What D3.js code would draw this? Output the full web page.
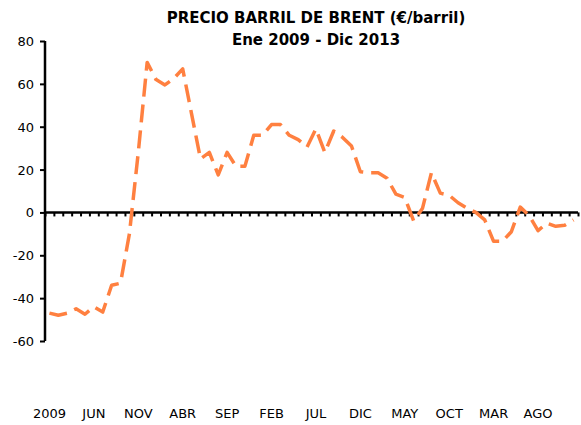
<!DOCTYPE html>
<html>
<head>
<meta charset="utf-8">
<script src="https://cdn.jsdelivr.net/npm/d3@7"></script>
<style>
  body { margin: 0; background: #fff; }
  text { font-family: "DejaVu Sans", Verdana, sans-serif; fill: #000; }
</style>
</head>
<body>
<div id="chart"></div>
<script>
const width = 581,
    height = 425;

// monthly values Ene 2009 - Dic 2013 (60 months)
const values = [
    -47, -48, -47, -45, -47.5, -44, -46.5, -34, -33, -10, 28, 70,
    62, 59.5, 62.5, 67, 46, 25, 28, 17.5, 28, 21.5, 21.5, 36,
    36, 41, 41, 36, 34, 30.5, 39, 28, 38, 35, 31, 19,
    18.5, 18.5, 16, 8.5, 7, -4, 2, 18.5, 9, 8, 4.5, 2,
    0, -3.5, -13.5, -13.5, -9, 2.5, -1.5, -8.5, -5, -6.5, -6, -3.5
];
const tickLabels = ['2009', 'JUN', 'NOV', 'ABR', 'SEP', 'FEB', 'JUL', 'DIC', 'MAY', 'OCT', 'MAR', 'AGO'];
const yTicks = [-60, -40, -20, 0, 20, 40, 60, 80];
const titleLines = ['PRECIO BARRIL DE BRENT (€/barril)', 'Ene 2009 - Dic 2013'];

const svg = d3.select('#chart')
    .append('svg')
    .attr('width', width)
    .attr('height', height);

const xScale = d3.scaleBand()
    .domain(d3.range(values.length))
    .range([45, 578]);
// month boundaries, for the small ticks on the zero line
const xEdge = d3.scaleLinear()
    .domain([0, values.length])
    .range(xScale.range());
const yScale = d3.scaleLinear()
    .domain([-60, 80])
    .range([341, 41]);

// title
svg.selectAll('.title')
    .data(titleLines)
    .enter()
    .append('text')
    .attr('class', 'title')
    .attr('x', 316)
    .attr('y', (d, i) => 23 + i * 22)
    .attr('text-anchor', 'middle')
    .style('font-size', '15px')
    .style('font-weight', 'bold')
    .text(d => d);

// y axis
const yAxisG = svg.append('g')
    .attr('transform', 'translate(45,0)')
    .call(d3.axisLeft(yScale).tickValues(yTicks).tickSize(5).tickPadding(6).tickFormat(d => String(d)));
yAxisG.select('.domain').attr('stroke', '#000').attr('stroke-width', 2.5).attr('d', 'M0,' + yScale(-60) + 'V' + yScale(80));
yAxisG.selectAll('.tick line').attr('stroke-width', 2);
yAxisG.selectAll('.tick text').style('font-size', '13px').attr('dy', '0.35em');

// x axis on the zero line
const xAxisG = svg.append('g')
    .attr('transform', 'translate(0,' + yScale(0) + ')')
    .call(d3.axisBottom(xEdge).tickValues(d3.range(0, values.length + 1)).tickSize(4).tickFormat(''));
xAxisG.select('.domain').attr('stroke', '#000').attr('stroke-width', 2.5).attr('d', 'M' + xEdge(0) + ',0H' + xEdge(values.length));
xAxisG.selectAll('.tick line').attr('stroke-width', 2);

// category labels at the bottom, every 5 months
const labelAxisG = svg.append('g')
    .attr('transform', 'translate(0,406)')
    .call(d3.axisBottom(xScale)
        .tickValues(d3.range(0, values.length, 5))
        .tickSize(0)
        .tickFormat((d, i) => tickLabels[i]));
labelAxisG.select('.domain').remove();
labelAxisG.selectAll('.tick text').style('font-size', '13px');

// series line
const line = d3.line()
    .x((d, i) => xScale(i) + xScale.bandwidth() / 2)
    .y(d => yScale(d));

svg.append('path')
    .datum(values)
    .attr('d', line)
    .attr('fill', 'none')
    .attr('stroke', '#ff8040')
    .attr('stroke-width', 3.5)
    .attr('stroke-dasharray', '18,8')
    .attr('stroke-linejoin', 'round');
</script>
</body>
</html>
